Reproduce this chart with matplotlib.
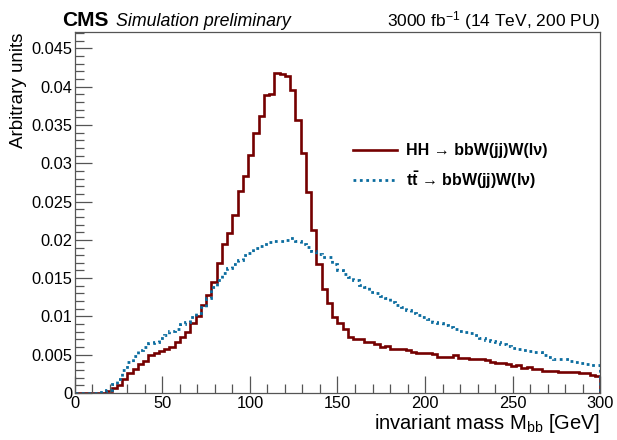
import numpy as np
import matplotlib
matplotlib.use("Agg")
import matplotlib.pyplot as plt
from matplotlib.ticker import MultipleLocator

plt.rcParams['font.family'] = ['Liberation Sans', 'DejaVu Sans']
plt.rcParams['mathtext.fontset'] = 'custom'
plt.rcParams['mathtext.rm'] = 'Liberation Sans'
plt.rcParams['mathtext.it'] = 'Liberation Sans:italic'
plt.rcParams['mathtext.bf'] = 'Liberation Sans:bold'

# 100 bins of 3 GeV from 0 to 300
edges = np.linspace(0, 300, 101)

hh = [
    0, 0, 0, 0, 0, 0.0000, 0.0003, 0.0006, 0.0010, 0.0018,
    0.0026, 0.0032, 0.0038, 0.0042, 0.0049, 0.0052, 0.0055, 0.0058, 0.0060, 0.0067,
    0.0073, 0.0080, 0.0092, 0.0101, 0.0115, 0.0128, 0.0145, 0.0170, 0.0195, 0.0209,
    0.0233, 0.0264, 0.0283, 0.0311, 0.0340, 0.0362, 0.0389, 0.0391, 0.0418, 0.0416,
    0.0414, 0.0396, 0.0356, 0.0313, 0.0262, 0.0213, 0.0168, 0.0136, 0.0117, 0.0099,
    0.0091, 0.0084, 0.0073, 0.0070, 0.0070, 0.0067, 0.0066, 0.0064, 0.0060, 0.0061,
    0.0058, 0.0057, 0.0058, 0.0056, 0.0053, 0.0052, 0.0052, 0.0052, 0.0051, 0.0047,
    0.0047, 0.0047, 0.0049, 0.0046, 0.0046, 0.0044, 0.0044, 0.0044, 0.0043, 0.0040,
    0.0039, 0.0039, 0.0038, 0.0035, 0.0036, 0.0033, 0.0034, 0.0031, 0.0031, 0.0029,
    0.0029, 0.0029, 0.0028, 0.0027, 0.0028, 0.0027, 0.0026, 0.0026, 0.0023, 0.0022,
]

ttbar = [
    0, 0, 0, 0, 0, 0.0001, 0.0004, 0.0012, 0.0018, 0.0030,
    0.0040, 0.0048, 0.0056, 0.0060, 0.0065, 0.0067, 0.0072, 0.0076, 0.0081, 0.0084,
    0.0090, 0.0093, 0.0099, 0.0105, 0.0112, 0.0124, 0.0138, 0.0148, 0.0157, 0.0163,
    0.0169, 0.0174, 0.0180, 0.0183, 0.0189, 0.0192, 0.0195, 0.0197, 0.0198, 0.0199,
    0.0200, 0.0203, 0.0198, 0.0194, 0.0191, 0.0186, 0.0182, 0.0178, 0.0177, 0.0168,
    0.0160, 0.0156, 0.0152, 0.0147, 0.0141, 0.0138, 0.0132, 0.0130, 0.0127, 0.0124,
    0.0119, 0.0115, 0.0112, 0.0108, 0.0105, 0.0102, 0.0099, 0.0096, 0.0093, 0.0091,
    0.0089, 0.0086, 0.0083, 0.0081, 0.0080, 0.0078, 0.0076, 0.0072, 0.0069, 0.0068,
    0.0066, 0.0064, 0.0062, 0.0059, 0.0057, 0.0056, 0.0055, 0.0054, 0.0053, 0.0050,
    0.0047, 0.0045, 0.0045, 0.0044, 0.0042, 0.0041, 0.0039, 0.0038, 0.0037, 0.0036,
]

red = '#750000'
blue = '#0b6c9f'

fig = plt.figure(figsize=(6.17, 4.40), dpi=100)
ax = fig.add_axes([0.1215, 0.1068, 0.8510, 0.8197])

ax.stairs(hh, edges, color=red, lw=1.9)
ax.stairs(ttbar, edges, color=blue, lw=2.0, linestyle=(0, (1, 1.3)))

ax.set_xlim(0, 300)
ax.set_ylim(0, 0.0471)
ax.xaxis.set_major_locator(MultipleLocator(50))
ax.xaxis.set_minor_locator(MultipleLocator(10))
ax.yaxis.set_major_locator(MultipleLocator(0.005))
ax.yaxis.set_minor_locator(MultipleLocator(0.001))
ax.yaxis.set_major_formatter(matplotlib.ticker.FuncFormatter(lambda v, p: '%g' % round(v, 4)))
ax.tick_params(which='both', direction='in', top=False, right=False, labelsize=11.8, color='#555555')
ax.tick_params(which='major', length=12, width=0.9)
ax.tick_params(which='minor', length=6.5, width=0.9)
ax.tick_params(axis='x', pad=2)
ax.tick_params(axis='y', pad=2)
for s in ax.spines.values():
    s.set_color('#555555')
    s.set_linewidth(0.9)

ax.set_xlabel(r'invariant mass M$_{\rm bb}$ [GeV]', fontsize=14.5, loc='right', labelpad=1)
ax.set_ylabel('Arbitrary units', fontsize=13.5, loc='top', labelpad=3)

# header
fig.text(0.100, 0.940, 'CMS', fontsize=15, fontweight='bold', va='baseline')
fig.text(0.188, 0.940, 'Simulation preliminary', fontsize=12.8, style='italic', va='baseline')
fig.text(0.9724, 0.940, r'3000 fb$^{-1}$ (14 TeV, 200 PU)', fontsize=12.5, ha='right', va='baseline')

# legend
ax.plot([159, 184], [0.0317, 0.0317], color=red, lw=1.9)
ax.plot([159, 184], [0.0278, 0.0278], color=blue, lw=2.0, linestyle=(0, (1, 1.3)))
ax.text(189, 0.0317, 'HH \u2192 bbW(jj)W(l\u03bd)', fontsize=11.5, fontweight='bold', va='center')
ax.text(189, 0.0278, '$\\mathbf{t\\bar{t}}$ \u2192 bbW(jj)W(l\u03bd)',
        fontsize=11.5, fontweight='bold', va='center')

fig.savefig('out.png', dpi=100)
